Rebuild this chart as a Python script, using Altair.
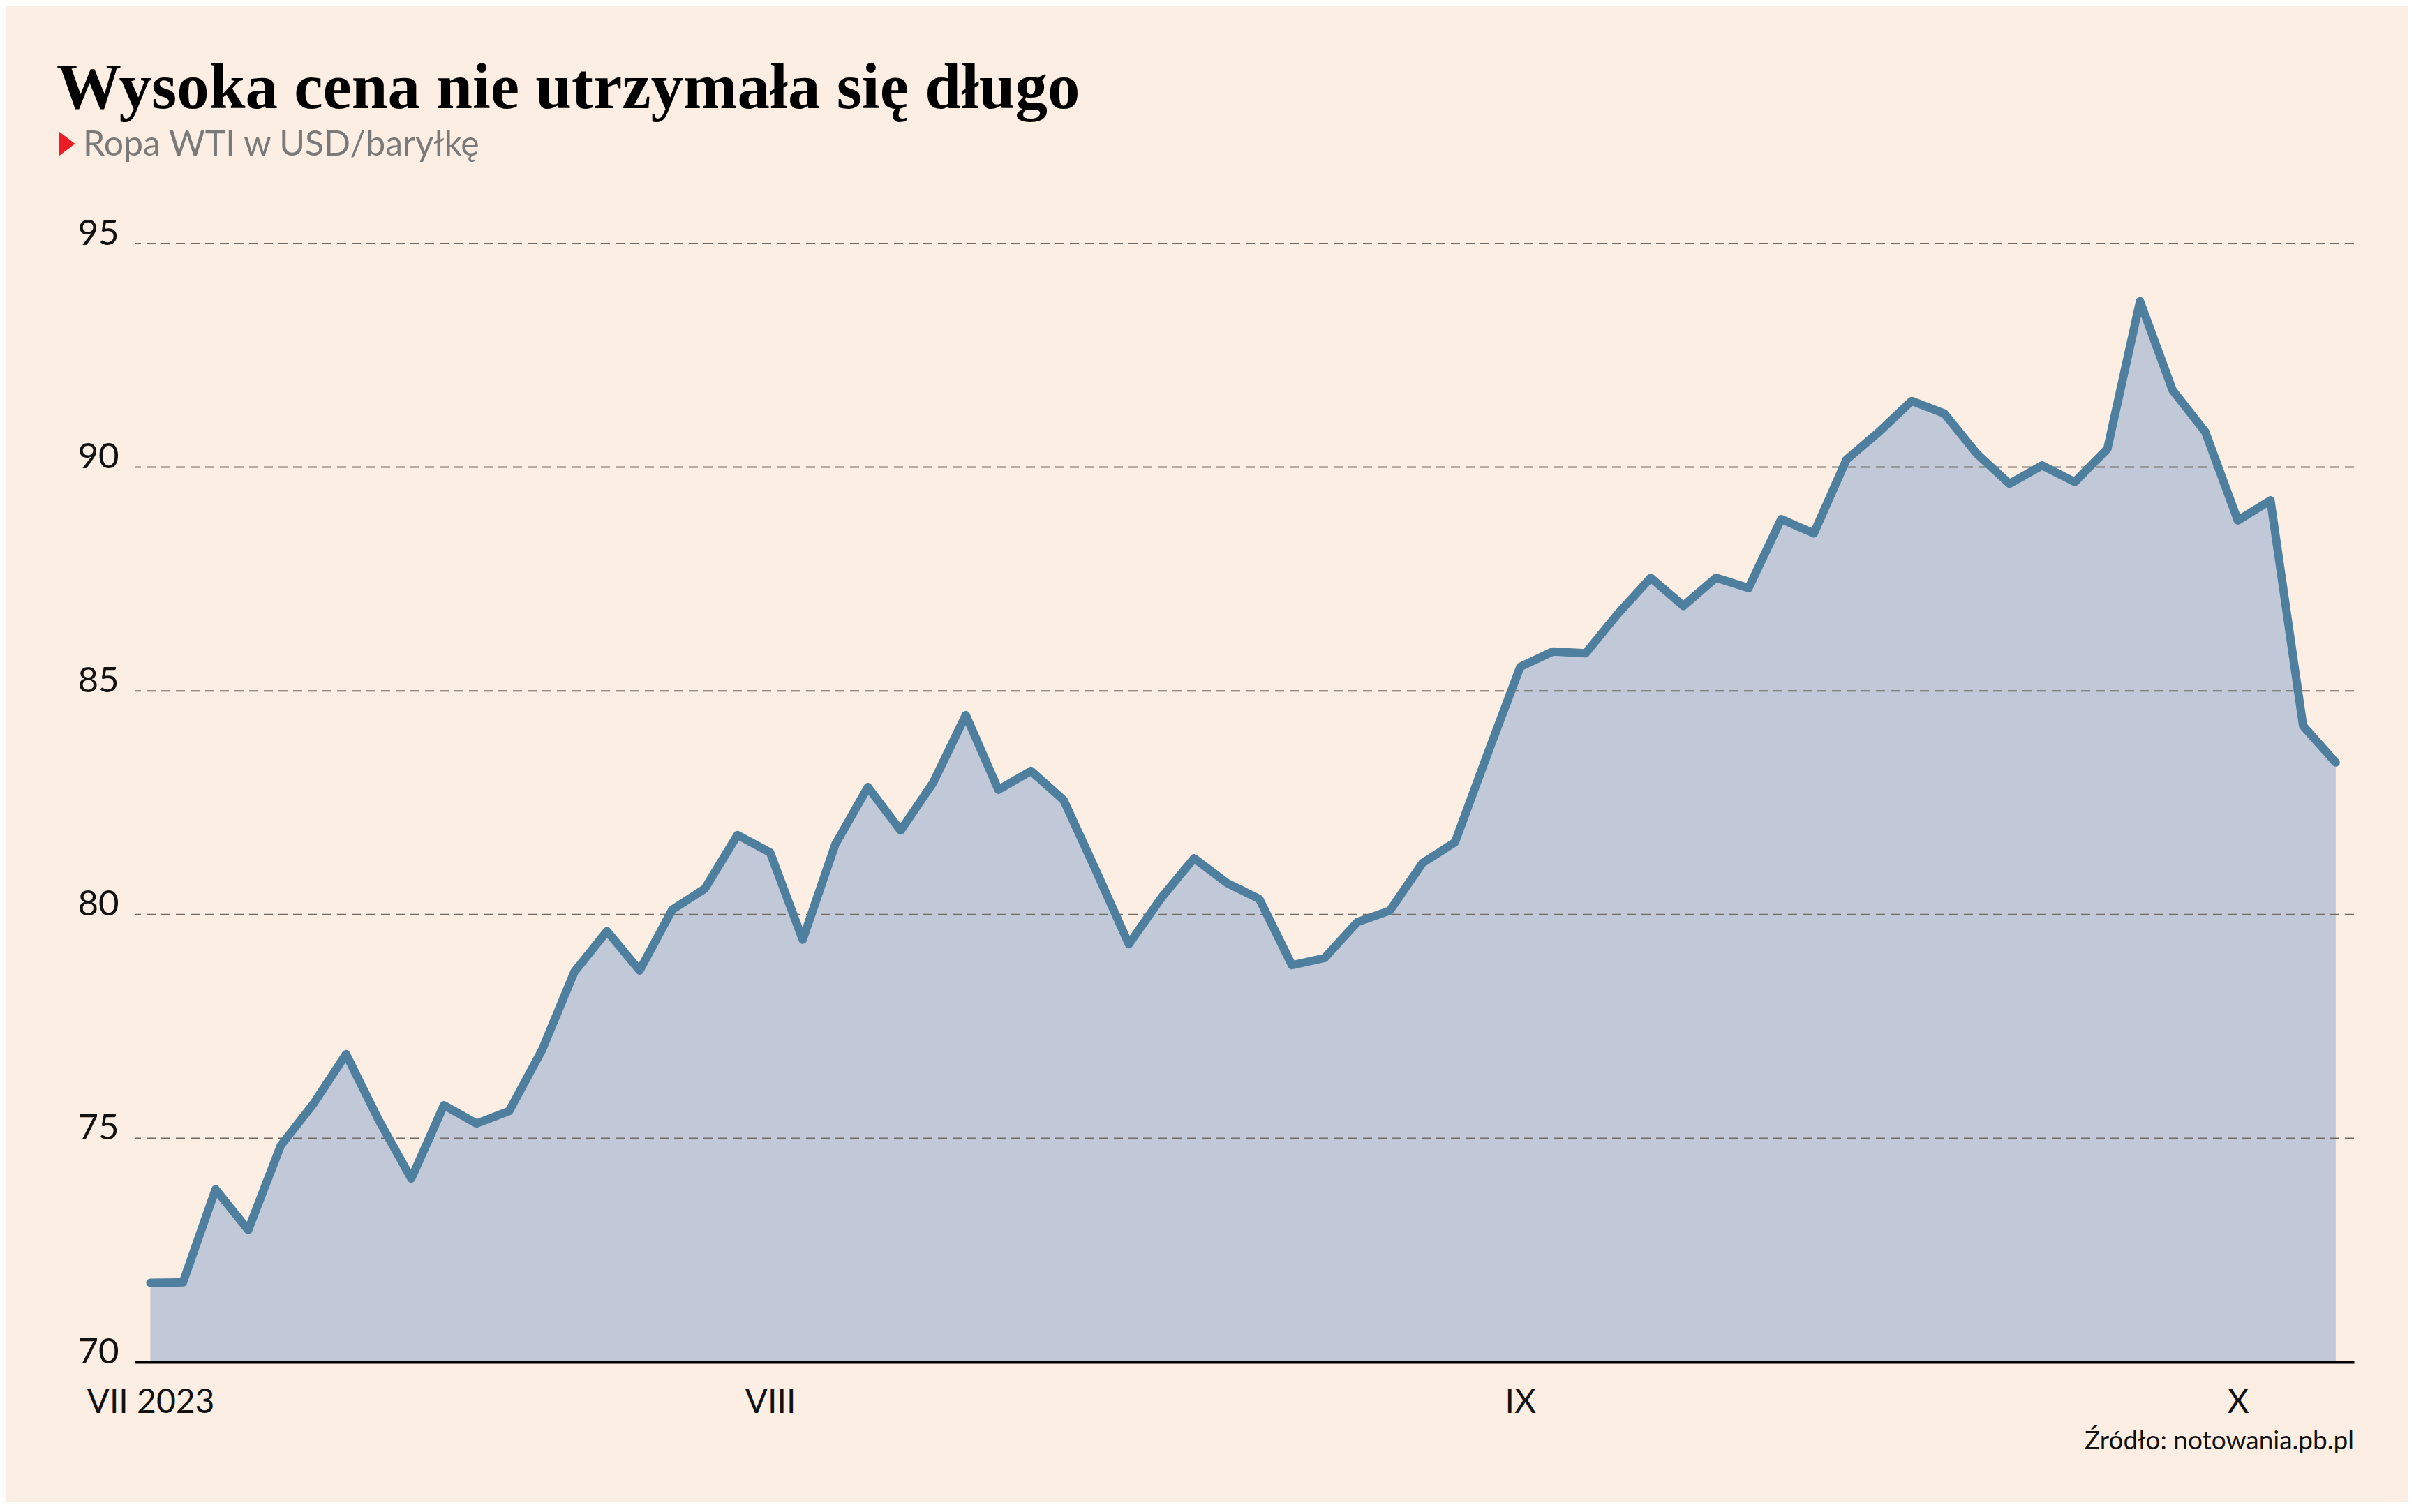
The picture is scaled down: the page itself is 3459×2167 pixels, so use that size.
import altair as alt
import pandas as pd

# ---- data (WTI close, USD/bbl, trading days Jul 5 - Oct 5, 2023)
values = [71.77, 71.78, 73.86, 72.95, 74.84, 75.77, 76.88, 75.41, 74.10, 75.74,
          75.33, 75.61, 76.96, 78.72, 79.63, 78.75, 80.11, 80.58, 81.78, 81.39,
          79.44, 81.57, 82.85, 81.88, 82.95, 84.46, 82.79, 83.21, 82.56, 80.97,
          79.34, 80.38, 81.26, 80.71, 80.35, 78.87, 79.03, 79.83, 80.09, 81.15,
          81.62, 83.60, 85.54, 85.88, 85.84, 86.73, 87.53, 86.90, 87.53, 87.30,
          88.84, 88.52, 90.17, 90.79, 91.48, 91.20, 90.30, 89.63, 90.04, 89.67,
          90.41, 93.71, 91.72, 90.79, 88.81, 89.26, 84.22, 83.40]
day_index = list(range(len(values)))

x_tick_index = [0, 19, 42, 64]
x_tick_labels = ["VII 2023", "VIII", "IX", "X"]
y_ticks = [70, 75, 80, 85, 90, 95]
grid_values = [75, 80, 85, 90, 95]

title_text = "Wysoka cena nie utrzymała się długo"
subtitle_text = "Ropa WTI w USD/baryłkę"
source_text = "Źródło: notowania.pb.pl"

BG = "#FCEEE2"
FILL = "#C1C8D8"
LINE = "#4F7F9E"
LABEL_FONT = "Lato"

W, H = 3180, 1603

df = pd.DataFrame({"i": day_index, "v": values})

label_expr = " : ".join(
    f"datum.value == {i} ? '{t}'" for i, t in zip(x_tick_index, x_tick_labels)
) + " : ''"

x_scale = alt.Scale(domain=[-0.48, 67.56], nice=False, zero=False)
y_scale = alt.Scale(domain=[70, 95], nice=False, zero=False)

x_axis = alt.Axis(values=x_tick_index, labelExpr=label_expr, grid=False,
                  ticks=False, tickSize=0, domain=True, domainColor="#000000",
                  domainWidth=4, labelPadding=34, labelFont=LABEL_FONT,
                  labelFontSize=48, labelColor="#111111", labelAlign="center",
                  labelBaseline="top", labelLimit=0, zindex=1)
y_axis = alt.Axis(values=y_ticks, grid=False, domain=False, ticks=False,
                  tickSize=0, labelPadding=82, labelAlign="left",
                  labelBaseline="alphabetic", labelOffset=1,
                  labelFont=LABEL_FONT, labelFontSize=51,
                  labelColor="#111111", labelLimit=0)

x_enc = alt.X("i:Q", scale=x_scale, title=None, axis=x_axis)
y_enc = alt.Y("v:Q", scale=y_scale, title=None, axis=y_axis)

area = alt.Chart(df).mark_area(color=FILL, opacity=1).encode(
    x=x_enc, y=y_enc, y2=alt.datum(70)
)

grid = alt.Chart(pd.DataFrame({"g": grid_values})).mark_rule(
    color="#6f6a66", strokeWidth=2, strokeDash=[13, 8]
).encode(y=alt.Y("g:Q", scale=y_scale, title=None, axis=y_axis))

line = alt.Chart(df).mark_line(
    color=LINE, strokeWidth=12, strokeCap="round", strokeJoin="round"
).encode(x=x_enc, y=y_enc)

title = alt.Chart(pd.DataFrame({"t": [title_text]})).mark_text(
    font="Liberation Serif", fontWeight="bold", fontSize=93, color="#000000",
    align="left", baseline="alphabetic"
).encode(text="t:N", x=alt.value(-112), y=alt.value(-194))

subtitle = alt.Chart(pd.DataFrame({"t": [subtitle_text]})).mark_text(
    font=LABEL_FONT, fontSize=50, color="#7a7a7a",
    align="left", baseline="alphabetic"
).encode(text="t:N", x=alt.value(-74), y=alt.value(-126))

triangle = alt.Chart(pd.DataFrame({"t": [subtitle_text]})).mark_point(
    shape="M-0.66,-1L0.66,0L-0.66,1Z", filled=True, color="#EE1C25",
    opacity=1, size=1225, strokeWidth=0
).encode(x=alt.value(-97), y=alt.value(-143))

source = alt.Chart(pd.DataFrame({"t": [source_text]})).mark_text(
    font=LABEL_FONT, fontSize=37, color="#111111",
    align="right", baseline="alphabetic"
).encode(text="t:N", x=alt.value(W), y=alt.value(1728))

chart = alt.layer(area, grid, line, title, subtitle, triangle, source).properties(
    width=W, height=H,
    autosize=alt.AutoSizeParams(type="none"),
    padding={"left": 185, "top": 341, "right": 78, "bottom": 200},
    background=BG,
).configure_view(stroke=None)

chart.save("out.html", embed_options={"renderer": "svg", "actions": False})
